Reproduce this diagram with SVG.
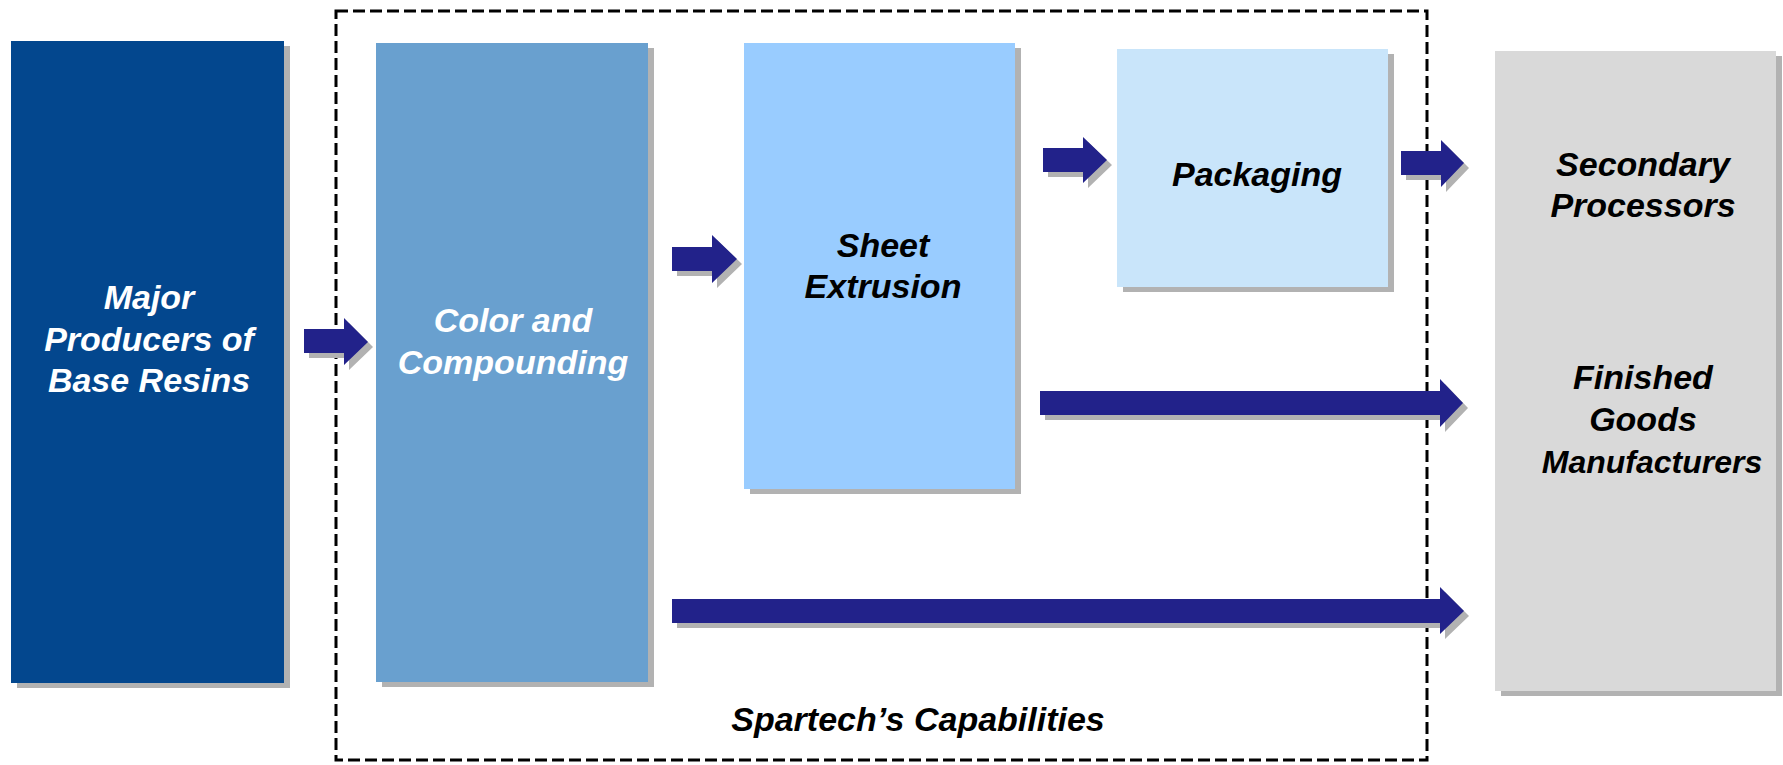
<svg xmlns="http://www.w3.org/2000/svg" width="1783" height="765" viewBox="0 0 1783 765">
<defs>
<style>
.sh{fill:#B2B2B2}
.t{font-family:"Liberation Sans",Arial,sans-serif;font-weight:bold;font-style:italic;font-size:34px;text-anchor:middle}
.w{fill:#FFFFFF}
.k{fill:#000000}
.arr{fill:#22228A}
</style>
</defs>
<rect width="1783" height="765" fill="#FFFFFF"/>
<g id="capabilities-frame">
<rect x="336" y="11" width="1091" height="749" fill="none" stroke="#000" stroke-width="3" stroke-dasharray="12 5"/>
<text class="t k" x="918" y="731">Spartech’s Capabilities</text>
</g>
<g id="node-producers">
<rect class="sh" x="17" y="46" width="273" height="642"/>
<rect x="11" y="41" width="273" height="642" fill="#03478E"/>
<text class="t w" x="149"><tspan x="149" y="309">Major</tspan><tspan x="149" y="351">Producers of</tspan><tspan x="149" y="392">Base Resins</tspan></text>
</g>
<g id="node-color">
<rect class="sh" x="382" y="48" width="272" height="639"/>
<rect x="376" y="43" width="272" height="639" fill="#69A0CF"/>
<text class="t w" x="513"><tspan x="513" y="332">Color and</tspan><tspan x="513" y="374">Compounding</tspan></text>
</g>
<g id="node-sheet">
<rect class="sh" x="750" y="48" width="271" height="446"/>
<rect x="744" y="43" width="271" height="446" fill="#99CCFF"/>
<text class="t k" x="883"><tspan x="883" y="257">Sheet</tspan><tspan x="883" y="298">Extrusion</tspan></text>
</g>
<g id="node-packaging">
<rect class="sh" x="1123" y="54" width="271" height="238"/>
<rect x="1117" y="49" width="271" height="238" fill="#C9E5FA"/>
<text class="t k" x="1257" y="186">Packaging</text>
</g>
<g id="node-customers">
<rect class="sh" x="1501" y="56" width="281" height="640"/>
<rect x="1495" y="51" width="281" height="640" fill="#D9D9D9"/>
<text class="t k" x="1643"><tspan x="1643" y="176">Secondary</tspan><tspan x="1643" y="217">Processors</tspan></text>
<text class="t k" x="1643"><tspan x="1643" y="389">Finished</tspan><tspan x="1643" y="431">Goods</tspan><tspan x="1652" y="473" style="font-size:32px">Manufacturers</tspan></text>
</g>
<g id="connectors">
<g transform="translate(5,5)" class="sh">
<polygon points="304,329 344,329 344,318 368,342 344,365 344,353 304,353"/>
<polygon points="672,247 712,247 712,235 737,259 712,283 712,271 672,271"/>
<polygon points="1043,148 1083,148 1083,137 1107,160 1083,183 1083,172 1043,172"/>
<polygon points="1401,151 1441,151 1441,140 1464,163 1441,187 1441,175 1401,175"/>
<polygon points="1040,391 1440,391 1440,379 1463,403 1440,427 1440,415 1040,415"/>
<polygon points="672,599 1440,599 1440,587 1464,611 1440,634 1440,623 672,623"/>
</g>
<g class="arr">
<polygon points="304,329 344,329 344,318 368,342 344,365 344,353 304,353"/>
<polygon points="672,247 712,247 712,235 737,259 712,283 712,271 672,271"/>
<polygon points="1043,148 1083,148 1083,137 1107,160 1083,183 1083,172 1043,172"/>
<polygon points="1401,151 1441,151 1441,140 1464,163 1441,187 1441,175 1401,175"/>
<polygon points="1040,391 1440,391 1440,379 1463,403 1440,427 1440,415 1040,415"/>
<polygon points="672,599 1440,599 1440,587 1464,611 1440,634 1440,623 672,623"/>
</g>
</g>
</svg>
